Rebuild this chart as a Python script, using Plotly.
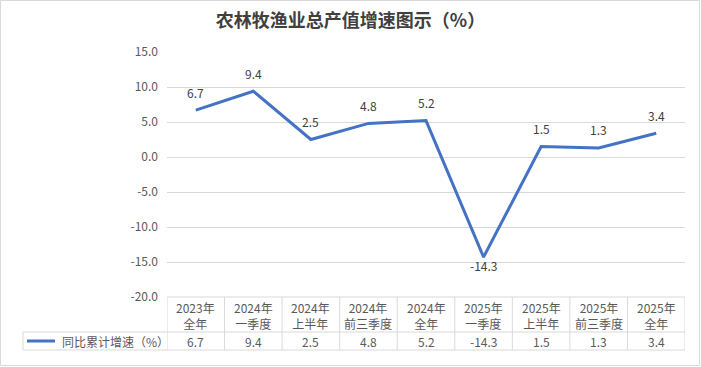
import plotly.graph_objects as go

categories_top = ["2023年", "2024年", "2024年", "2024年", "2024年", "2025年", "2025年", "2025年", "2025年"]
categories_bottom = ["全年", "一季度", "上半年", "前三季度", "全年", "一季度", "上半年", "前三季度", "全年"]
growth = [6.7, 9.4, 2.5, 4.8, 5.2, -14.3, 1.5, 1.3, 3.4]
series_name = "同比累计增速（%）"
y_ticks = [15, 10, 5, 0, -5, -10, -15, -20]
title_text = "农林牧渔业总产值增速图示（%）"

W, H = 701, 367
L, R, T, B = 167, 16, 52, 70
PW, PH = W - L - R, H - T - B

def px_to_py(py):
    return (H - B - py) / PH

def px_to_px(px):
    return (px - L) / PW

FONT = "Noto Sans CJK SC, Microsoft YaHei, sans-serif"
LINE_COLOR = "#4472C4"
GRID = "#d9d9d9"

xs = list(range(len(growth)))
fig = go.Figure()
fig.add_trace(go.Scatter(x=xs, y=growth, mode="lines",
                         line=dict(color=LINE_COLOR, width=3), hoverinfo="skip",
                         showlegend=False))

annotations = []
for i, v in enumerate(growth):
    annotations.append(dict(x=i, y=v, xref="x", yref="y", text=f"{v:.1f}",
                            showarrow=False, yshift=18 if v >= 0 else -8,
                            font=dict(family=FONT, size=12, color="#404040")))
    annotations.append(dict(x=i, y=px_to_py(315), xref="x", yref="paper",
                            text=f"{categories_top[i]}<br>{categories_bottom[i]}",
                            showarrow=False, yanchor="middle",
                            font=dict(family=FONT, size=12, color="#595959")))
    annotations.append(dict(x=i, y=px_to_py(341.5), xref="x", yref="paper",
                            text=f"{v:.1f}", showarrow=False, yanchor="middle",
                            font=dict(family=FONT, size=12, color="#595959")))

annotations.append(dict(x=px_to_px(60), y=px_to_py(341.5), xref="paper", yref="paper",
                        text=series_name, showarrow=False, xanchor="left", yanchor="middle",
                        font=dict(family=FONT, size=12, color="#595959")))

shapes = []
n = len(growth)
# table horizontal lines
shapes.append(dict(type="line", xref="x", yref="paper", x0=-0.5, x1=n - 0.5,
                   y0=0, y1=0, line=dict(color=GRID, width=1)))
for py in (332, 350):
    shapes.append(dict(type="line", xref="paper", yref="paper", x0=px_to_px(23), x1=1,
                       y0=px_to_py(py), y1=px_to_py(py), line=dict(color=GRID, width=1)))
# table vertical lines
for k in range(n + 1):
    shapes.append(dict(type="line", xref="x", yref="paper", x0=k - 0.5, x1=k - 0.5,
                       y0=0, y1=px_to_py(350), line=dict(color=GRID, width=1)))
shapes.append(dict(type="line", xref="paper", yref="paper", x0=px_to_px(23), x1=px_to_px(23),
                   y0=px_to_py(332), y1=px_to_py(350), line=dict(color=GRID, width=1)))
# legend sample
shapes.append(dict(type="line", xref="paper", yref="paper", x0=px_to_px(27), x1=px_to_px(55),
                   y0=px_to_py(341), y1=px_to_py(341), line=dict(color=LINE_COLOR, width=3)))
# outer border
shapes.append(dict(type="rect", xref="paper", yref="paper",
                   x0=px_to_px(0.5), x1=px_to_px(W - 1.5), y0=px_to_py(H - 1.5), y1=px_to_py(0.5),
                   line=dict(color="#d9d9d9", width=1)))

fig.update_layout(
    width=W, height=H,
    margin=dict(l=L, r=R, t=T, b=B),
    paper_bgcolor="white", plot_bgcolor="white",
    title=dict(text=f"<b>{title_text}</b>", x=0.5, xref="container", xanchor="center",
               y=1 - 21 / H, yref="container", yanchor="middle",
               font=dict(family=FONT, size=18, color="#404040")),
    xaxis=dict(range=[-0.5, n - 0.5], showgrid=False, zeroline=False,
               showticklabels=False, ticks="", fixedrange=True, showline=False),
    yaxis=dict(range=[-20, 15], tickvals=y_ticks, ticktext=[f"{t:.1f}" for t in y_ticks],
               showgrid=True, gridcolor=GRID, gridwidth=1, zeroline=False,
               showline=False, ticks="", ticklabelstandoff=8, fixedrange=True,
               tickfont=dict(family=FONT, size=12, color="#595959")),
    annotations=annotations,
    shapes=shapes,
)

fig.write_html("out.html", config={"displayModeBar": False},
               post_script="document.body.style.margin='0';document.body.style.overflow='hidden';")
